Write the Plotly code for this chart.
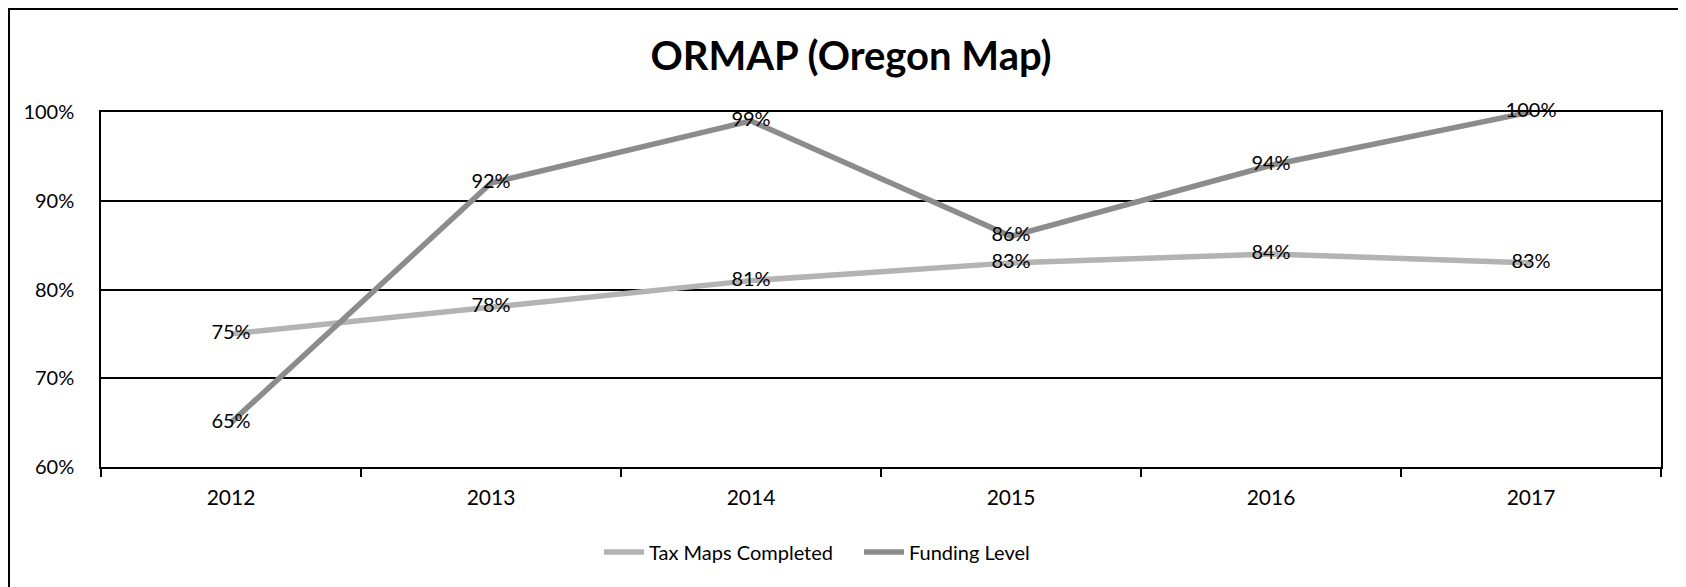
import plotly.graph_objects as go

# data
years = ["2012", "2013", "2014", "2015", "2016", "2017"]
tax_maps_completed = [0.75, 0.78, 0.81, 0.83, 0.84, 0.83]
funding_level = [0.65, 0.92, 0.99, 0.86, 0.94, 1.00]

y_ticks = [0.6, 0.7, 0.8, 0.9, 1.0]

FONT = "Lato, Arial, sans-serif"
W, H = 1686, 587
OFF = 8  # the page body adds an 8px margin around the figure
L, T = 101 - OFF, 112 - OFF
R = W - (1661 - OFF)
B = H - (467 - OFF)
plot_w = W - L - R
plot_h = H - T - B

fig = go.Figure()

series = [
    ("Tax Maps Completed", tax_maps_completed, "#b3b3b3"),
    ("Funding Level", funding_level, "#8c8c8c"),
]
for name, vals, color in series:
    fig.add_trace(go.Scatter(
        x=years, y=vals, name=name,
        mode="lines+text",
        line=dict(color=color, width=5.5),
        texttemplate="%{y:.0%}",
        textposition="middle center",
        textfont=dict(family=FONT, size=20, color="#000000"),
        cliponaxis=False,
    ))

# outer chart frame (only left/top edges are inside the picture)
fig.add_shape(
    type="rect", xref="paper", yref="paper",
    x0=(1 - L) / plot_w, x1=1.2,
    y0=-0.6, y1=(H - B - 1) / plot_h,
    line=dict(color="#000000", width=2),
    layer="below",
)

fig.update_layout(
    width=W, height=H,
    margin=dict(l=L, r=R, t=T, b=B, autoexpand=False),
    paper_bgcolor="#ffffff",
    plot_bgcolor="#ffffff",
    font=dict(family=FONT, size=20, color="#000000"),
    title=dict(
        text="<b>ORMAP (Oregon Map)</b>",
        x=(851 - OFF) / W, xanchor="center", xref="container",
        y=1 - (56 - OFF) / H, yanchor="middle", yref="container",
        font=dict(family=FONT, size=40, color="#000000"),
    ),
    showlegend=True,
    legend=dict(
        orientation="h",
        x=(599 - 101) / plot_w, xanchor="left",
        y=(467 - 552) / plot_h, yanchor="middle",
        font=dict(family=FONT, size=20),
        bgcolor="rgba(0,0,0,0)",
        itemwidth=40,
        entrywidth=205,
        tracegroupgap=0,
    ),
    xaxis=dict(
        type="category",
        range=[-0.5, len(years) - 0.5],
        tickson="boundaries",
        ticks="outside", ticklen=8, tickcolor="#000000", tickwidth=1.5,
        showline=True, linecolor="#000000", linewidth=1.5, mirror=True,
        showgrid=False,
        ticklabelstandoff=11,
        tickfont=dict(family=FONT, size=21),
    ),
    yaxis=dict(
        range=[0.6, 1.0],
        tickvals=y_ticks,
        tickformat=".0%",
        showgrid=True, gridcolor="#000000", gridwidth=1.5,
        showline=True, linecolor="#000000", linewidth=1.5, mirror=True,
        zeroline=False,
        ticks="",
        ticklabelstandoff=21,
        tickfont=dict(family=FONT, size=20),
    ),
)

fig.write_html("out.html")
